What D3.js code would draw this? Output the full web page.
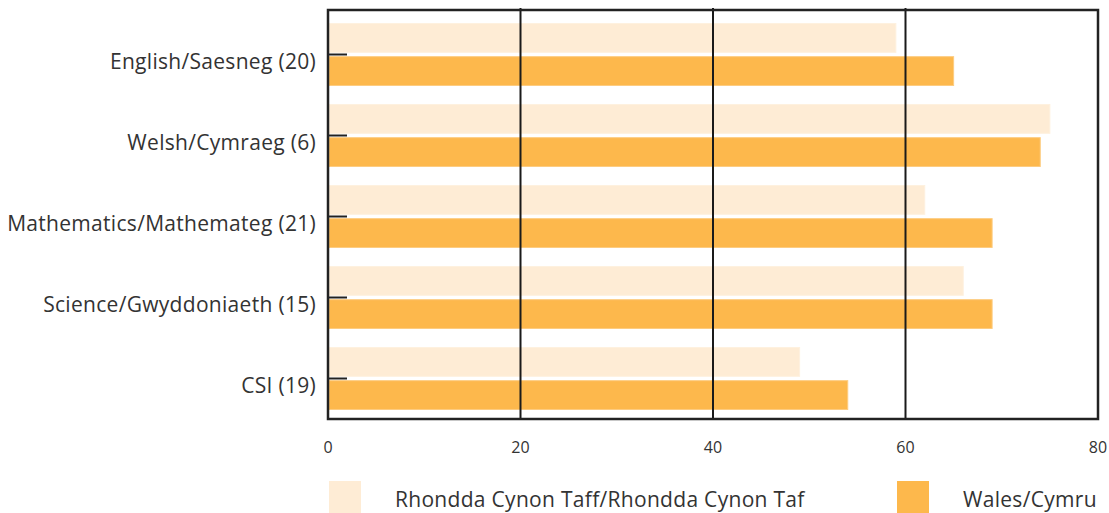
<!DOCTYPE html>
<html>
<head>
<meta charset="utf-8">
<script src="https://cdn.jsdelivr.net/npm/d3@7"></script>
<style>
  html, body { margin: 0; padding: 0; background: #fff; }
  svg { display: block; }
  text { font-family: "Open Sans", Lato, sans-serif; fill: #333; }
</style>
</head>
<body>
<div id="chart"></div>
<script>
"use strict";

// ─── Data ────────────────────────────────────────────────────────────────────
const categories = [
  "English/Saesneg (20)",
  "Welsh/Cymraeg (6)",
  "Mathematics/Mathemateg (21)",
  "Science/Gwyddoniaeth (15)",
  "CSI (19)",
];
const seriesNames = ["Rhondda Cynon Taff/Rhondda Cynon Taf", "Wales/Cymru"];
const rctValues   = [59, 75, 62, 66, 49];
const walesValues = [65, 74, 69, 69, 54];
const xTicks = [0, 20, 40, 60, 80];

const COLORS = { rct: "#feecd5", wales: "#fdb84c" };
const STROKES = { rct: "#fef1df", wales: "#fdcc80" };

// ─── Layout ──────────────────────────────────────────────────────────────────
const W = 1109, H = 513;
const plot = { left: 328, right: 1098, top: 10, bottom: 419 };

const svg = d3.select("#chart").append("svg")
  .attr("width", W)
  .attr("height", H);

const x = d3.scaleLinear()
  .domain([0, 80])
  .range([plot.left, plot.right]);

const y0 = d3.scaleBand()
  .domain(categories)
  .range([plot.top + 4, plot.bottom])
  .paddingInner(0.235)
  .paddingOuter(0.1175);

const y1 = d3.scaleBand()
  .domain(["rct", "wales"])
  .range([0, y0.bandwidth()])
  .paddingInner(0.13);

const rows = categories.map((c, i) => ({
  cat: c,
  vals: [
    { key: "rct", v: rctValues[i] },
    { key: "wales", v: walesValues[i] },
  ],
}));

// Bars
const groups = svg.append("g").selectAll("g.cat")
  .data(rows)
  .join("g")
  .attr("class", "cat")
  .attr("transform", (d) => `translate(0,${y0(d.cat)})`);

groups.selectAll("rect")
  .data((d) => d.vals)
  .join("rect")
  .attr("x", x(0) + 1)
  .attr("y", (d) => y1(d.key))
  .attr("width", (d) => x(d.v) - x(0) - 1)
  .attr("height", y1.bandwidth())
  .attr("fill", (d) => COLORS[d.key])
  .attr("stroke", (d) => STROKES[d.key])
  .attr("stroke-width", 1);

// Vertical gridlines at 20/40/60
svg.append("g").selectAll("line")
  .data(xTicks.filter((t) => t > 0 && t < 80))
  .join("line")
  .attr("x1", (d) => x(d)).attr("x2", (d) => x(d))
  .attr("y1", plot.top - 2).attr("y2", plot.bottom)
  .attr("stroke", "#1a1a1a")
  .attr("stroke-width", 2);

// Frame
svg.append("rect")
  .attr("x", plot.left).attr("y", plot.top)
  .attr("width", plot.right - plot.left)
  .attr("height", plot.bottom - plot.top)
  .attr("fill", "none")
  .attr("stroke", "#222")
  .attr("stroke-width", 2.5);

// Category ticks + labels
const yAxis = svg.append("g");
yAxis.selectAll("line")
  .data(categories)
  .join("line")
  .attr("x1", plot.left).attr("x2", plot.left + 19)
  .attr("y1", (d) => y0(d) + y0.bandwidth() / 2)
  .attr("y2", (d) => y0(d) + y0.bandwidth() / 2)
  .attr("stroke", "#222")
  .attr("stroke-width", 2);

yAxis.selectAll("text")
  .data(categories)
  .join("text")
  .attr("x", 316)
  .attr("y", (d) => y0(d) + y0.bandwidth() / 2 + 7)
  .attr("dy", "0.35em")
  .attr("text-anchor", "end")
  .style("font-size", "21px")
  .style("letter-spacing", "0.3px")
  .text((d) => d);

// X tick labels
svg.append("g").selectAll("text")
  .data(xTicks)
  .join("text")
  .attr("x", (d) => x(d))
  .attr("y", 447)
  .attr("dy", "0.35em")
  .attr("text-anchor", "middle")
  .style("font-size", "16px")
  .text((d) => d);

// Legend
const legendItems = [
  { key: "rct", name: seriesNames[0], sx: 329, tx: 395 },
  { key: "wales", name: seriesNames[1], sx: 897, tx: 963 },
];
const legend = svg.append("g").selectAll("g")
  .data(legendItems)
  .join("g");
legend.append("rect")
  .attr("x", (d) => d.sx).attr("y", 481)
  .attr("width", 32).attr("height", 32)
  .attr("fill", (d) => COLORS[d.key]);
legend.append("text")
  .attr("x", (d) => d.tx)
  .attr("y", 500)
  .attr("dy", "0.35em")
  .style("font-size", "21px")
  .style("letter-spacing", "0.3px")
  .text((d) => d.name);
</script>
</body>
</html>
